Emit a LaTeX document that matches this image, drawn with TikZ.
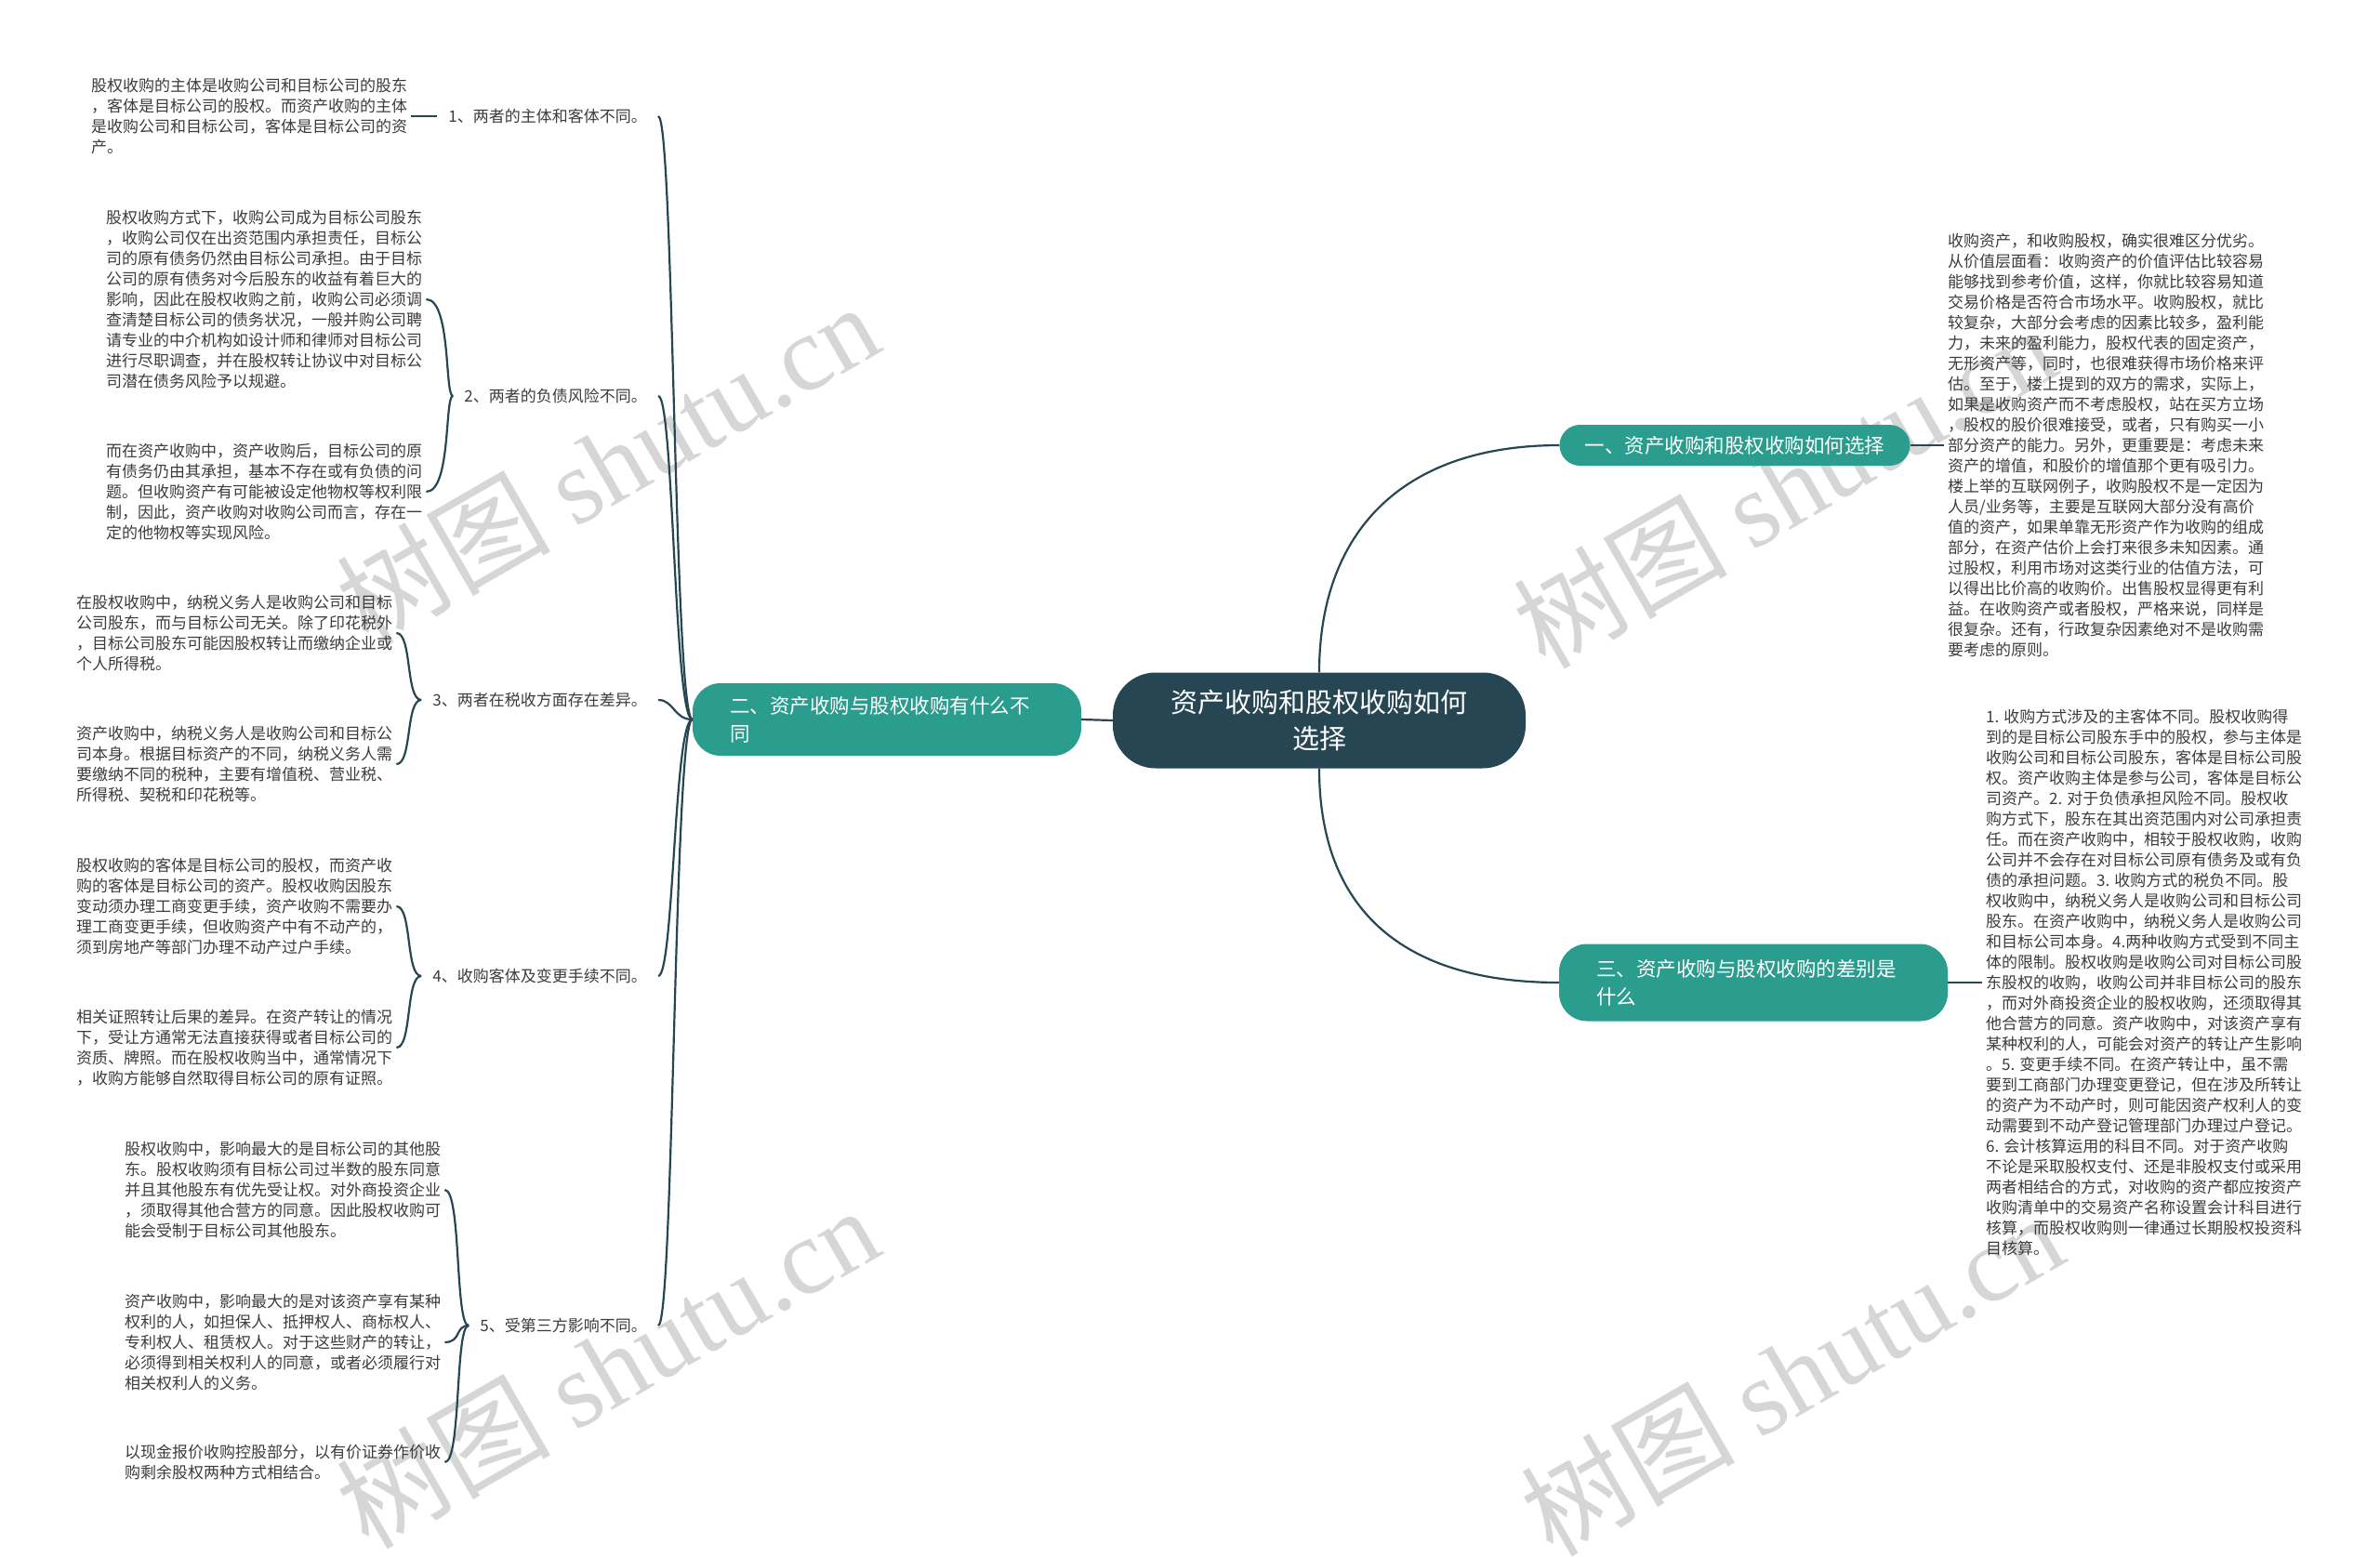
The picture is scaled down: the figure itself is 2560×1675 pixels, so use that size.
\documentclass[tikz,border=0pt]{standalone}
\usepackage{fontspec}
\setmainfont{Noto Sans CJK SC}
\newfontfamily\wmlatin{Liberation Serif}

\definecolor{hubcol}{RGB}{38,70,83}
\definecolor{topiccol}{RGB}{42,157,143}
\definecolor{inkcol}{RGB}{60,60,60}
\definecolor{wmcol}{RGB}{214,214,214}

\tikzset{
  hub/.style={fill=hubcol, text=white, rounded corners=46pt, minimum width=444pt, minimum height=103pt, align=center, font=\fontsize{29}{39}\selectfont},
  topic/.style={fill=topiccol, text=white, rounded corners=22pt, font=\fontsize{21.5}{30}\selectfont},
  widetopic/.style={topic, text width=338pt, inner xsep=40pt, align=left, rounded corners=30pt},
  note/.style={text=inkcol, align=left, inner sep=4pt, font=\fontsize{17}{22}\selectfont},
  item/.style={text=inkcol, inner xsep=12pt, inner ysep=4pt, font=\fontsize{17}{22}\selectfont},
  link/.style={draw=hubcol, line width=2.2pt},
  wmtext/.style={text=wmcol, rotate=30, font=\fontsize{115}{115}\selectfont},
}

\begin{document}
\begin{tikzpicture}[x=1pt, y=-1pt]
\useasboundingbox (0,0) rectangle (2560,1675);
\fill[white] (0,0) rectangle (2560,1675);

\node[wmtext] (wm1) at (653,498) {树图 {\wmlatin shutu.cn}};
\node[wmtext] (wm2) at (1919,523) {树图 {\wmlatin shutu.cn}};
\node[wmtext] (wm3) at (653,1470) {树图 {\wmlatin shutu.cn}};
\node[wmtext] (wm4) at (1927,1478) {树图 {\wmlatin shutu.cn}};

\node[hub] (hub) at (1419,775) {资产收购和股权收购如何\\选择};
\node[topic, minimum width=377pt, minimum height=44pt, inner sep=0pt] (t1) at (1866,479) {一、资产收购和股权收购如何选择};
\node[widetopic, minimum height=78pt] (t2) at (954,774) {二、资产收购与股权收购有什么不\\同};
\node[widetopic, minimum height=83pt] (t3) at (1886,1057) {三、资产收购与股权收购的差别是\\什么};

\node[note, anchor=west] (r1) at (2091,479) {收购资产，和收购股权，确实很难区分优劣。\\
从价值层面看：收购资产的价值评估比较容易\\
能够找到参考价值，这样，你就比较容易知道\\
交易价格是否符合市场水平。收购股权，就比\\
较复杂，大部分会考虑的因素比较多，盈利能\\
力，未来的盈利能力，股权代表的固定资产，\\
无形资产等，同时，也很难获得市场价格来评\\
估。至于，楼上提到的双方的需求，实际上，\\
如果是收购资产而不考虑股权，站在买方立场\\
，股权的股价很难接受，或者，只有购买一小\\
部分资产的能力。另外，更重要是：考虑未来\\
资产的增值，和股价的增值那个更有吸引力。\\
楼上举的互联网例子，收购股权不是一定因为\\
人员/业务等，主要是互联网大部分没有高价\\
值的资产，如果单靠无形资产作为收购的组成\\
部分，在资产估价上会打来很多未知因素。通\\
过股权，利用市场对这类行业的估值方法，可\\
以得出比价高的收购价。出售股权显得更有利\\
益。在收购资产或者股权，严格来说，同样是\\
很复杂。还有，行政复杂因素绝对不是收购需\\
要考虑的原则。};

\node[note, anchor=west] (r3) at (2132,1057) {1. 收购方式涉及的主客体不同。股权收购得\\
到的是目标公司股东手中的股权，参与主体是\\
收购公司和目标公司股东，客体是目标公司股\\
权。资产收购主体是参与公司，客体是目标公\\
司资产。2. 对于负债承担风险不同。股权收\\
购方式下，股东在其出资范围内对公司承担责\\
任。而在资产收购中，相较于股权收购，收购\\
公司并不会存在对目标公司原有债务及或有负\\
债的承担问题。3. 收购方式的税负不同。股\\
权收购中，纳税义务人是收购公司和目标公司\\
股东。在资产收购中，纳税义务人是收购公司\\
和目标公司本身。4.两种收购方式受到不同主\\
体的限制。股权收购是收购公司对目标公司股\\
东股权的收购，收购公司并非目标公司的股东\\
，而对外商投资企业的股权收购，还须取得其\\
他合营方的同意。资产收购中，对该资产享有\\
某种权利的人，可能会对资产的转让产生影响\\
。5. 变更手续不同。在资产转让中，虽不需\\
要到工商部门办理变更登记，但在涉及所转让\\
的资产为不动产时，则可能因资产权利人的变\\
动需要到不动产登记管理部门办理过户登记。\\
6. 会计核算运用的科目不同。对于资产收购\\
不论是采取股权支付、还是非股权支付或采用\\
两者相结合的方式，对收购的资产都应按资产\\
收购清单中的交易资产名称设置会计科目进行\\
核算，而股权收购则一律通过长期股权投资科\\
目核算。};

\node[item, anchor=east] (q1) at (708,125) {1、两者的主体和客体不同。};
\node[item, anchor=east] (q2) at (708,426) {2、两者的负债风险不同。};
\node[item, anchor=east] (q3) at (708,753) {3、两者在税收方面存在差异。};
\node[item, anchor=east] (q4) at (708,1050) {4、收购客体及变更手续不同。};
\node[item, anchor=east] (q5) at (708,1426) {5、受第三方影响不同。};

\node[note, anchor=west] (n1) at (94,125) {股权收购的主体是收购公司和目标公司的股东\\
，客体是目标公司的股权。而资产收购的主体\\
是收购公司和目标公司，客体是目标公司的资\\
产。};

\node[note, anchor=west] (n2a) at (110,322) {股权收购方式下，收购公司成为目标公司股东\\
，收购公司仅在出资范围内承担责任，目标公\\
司的原有债务仍然由目标公司承担。由于目标\\
公司的原有债务对今后股东的收益有着巨大的\\
影响，因此在股权收购之前，收购公司必须调\\
查清楚目标公司的债务状况，一般并购公司聘\\
请专业的中介机构如设计师和律师对目标公司\\
进行尽职调查，并在股权转让协议中对目标公\\
司潜在债务风险予以规避。};
\node[note, anchor=west] (n2b) at (110,529) {而在资产收购中，资产收购后，目标公司的原\\
有债务仍由其承担，基本不存在或有负债的问\\
题。但收购资产有可能被设定他物权等权利限\\
制，因此，资产收购对收购公司而言，存在一\\
定的他物权等实现风险。};

\node[note, anchor=west] (n3a) at (78,681) {在股权收购中，纳税义务人是收购公司和目标\\
公司股东，而与目标公司无关。除了印花税外\\
，目标公司股东可能因股权转让而缴纳企业或\\
个人所得税。};
\node[note, anchor=west] (n3b) at (78,822) {资产收购中，纳税义务人是收购公司和目标公\\
司本身。根据目标资产的不同，纳税义务人需\\
要缴纳不同的税种，主要有增值税、营业税、\\
所得税、契税和印花税等。};

\node[note, anchor=west] (n4a) at (78,975) {股权收购的客体是目标公司的股权，而资产收\\
购的客体是目标公司的资产。股权收购因股东\\
变动须办理工商变更手续，资产收购不需要办\\
理工商变更手续，但收购资产中有不动产的，\\
须到房地产等部门办理不动产过户手续。};
\node[note, anchor=west] (n4b) at (78,1127) {相关证照转让后果的差异。在资产转让的情况\\
下，受让方通常无法直接获得或者目标公司的\\
资质、牌照。而在股权收购当中，通常情况下\\
，收购方能够自然取得目标公司的原有证照。};

\node[note, anchor=west] (n5a) at (130,1280) {股权收购中，影响最大的是目标公司的其他股\\
东。股权收购须有目标公司过半数的股东同意\\
并且其他股东有优先受让权。对外商投资企业\\
，须取得其他合营方的同意。因此股权收购可\\
能会受制于目标公司其他股东。};
\node[note, anchor=west] (n5b) at (130,1444) {资产收购中，影响最大的是对该资产享有某种\\
权利的人，如担保人、抵押权人、商标权人、\\
专利权人、租赁权人。对于这些财产的转让，\\
必须得到相关权利人的同意，或者必须履行对\\
相关权利人的义务。};
\node[note, anchor=west] (n5c) at (130,1573) {以现金报价收购控股部分，以有价证券作价收\\
购剩余股权两种方式相结合。};

\draw[link] (hub.west) -- (t2.east);
\draw[link] (hub.north) .. controls +(0,-150) and +(-170,0) .. (t1.west);
\draw[link] (hub.south) .. controls +(0,150) and +(-170,0) .. (t3.west);
\draw[link] (t1.east) -- (r1.west);
\draw[link] (t3.east) -- (r3.west);

\foreach \q in {q1,q2,q3,q4,q5}
  \draw[link] (t2.west) .. controls +(-20,0) and +(17,0) .. (\q.east);

\draw[link] (q1.west) -- (n1.east);
\draw[link] (q2.west) .. controls +(-9,0) and +(27,0) .. (n2a.east);
\draw[link] (q2.west) .. controls +(-9,0) and +(27,0) .. (n2b.east);
\draw[link] (q3.west) .. controls +(-17,0) and +(17,0) .. (n3a.east);
\draw[link] (q3.west) .. controls +(-17,0) and +(17,0) .. (n3b.east);
\draw[link] (q4.west) .. controls +(-17,0) and +(17,0) .. (n4a.east);
\draw[link] (q4.west) .. controls +(-17,0) and +(17,0) .. (n4b.east);
\draw[link] (q5.west) .. controls +(-15,0) and +(18,0) .. (n5a.east);
\draw[link] (q5.west) .. controls +(-15,0) and +(18,0) .. (n5b.east);
\draw[link] (q5.west) .. controls +(-15,0) and +(18,0) .. (n5c.east);
\end{tikzpicture}
\end{document}
